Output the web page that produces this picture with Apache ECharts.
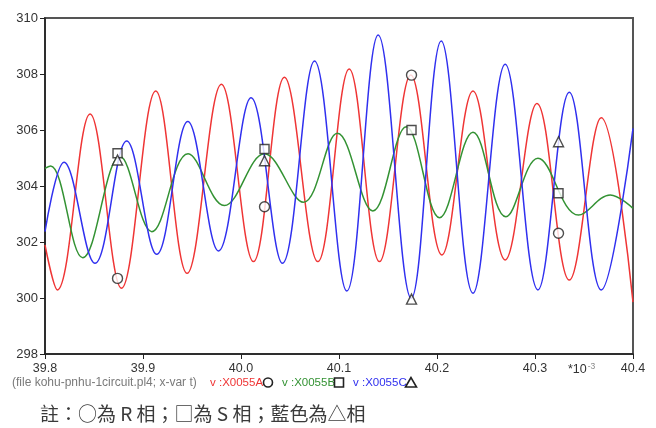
<!DOCTYPE html>
<html>
<head>
<meta charset="utf-8">
<script src="https://cdn.jsdelivr.net/npm/echarts@6/dist/echarts.min.js"></script>
<style>
html,body{margin:0;padding:0;background:#fff;}
#c{width:656px;height:428px;}
</style>
</head>
<body>
<div id="c"></div>
<script>
// x in units of 1e-3 s, y in volts
var redData = [
  [39.800, 301.90], [39.8126, 300.29], [39.846, 306.57], [39.878, 300.35],
  [39.913, 307.39], [39.945, 300.88], [39.980, 307.63], [40.0127, 301.30],
  [40.0443, 307.88], [40.0784, 301.30], [40.1104, 308.18], [40.1413, 301.30],
  [40.1733, 307.96], [40.205, 301.54], [40.2367, 307.39], [40.2696, 301.36],
  [40.302, 306.95], [40.335, 300.64], [40.3676, 306.44], [40.400, 299.85]
];
var greenData = [
  [39.800, 304.63], [39.8058, 304.71], [39.8385, 301.44], [39.8766, 305.05],
  [39.909, 302.37], [39.946, 305.15], [39.983, 303.30], [40.0239, 305.15],
  [40.0637, 303.42], [40.0984, 305.88], [40.1345, 303.11], [40.1686, 306.12],
  [40.2026, 302.87], [40.2367, 305.92], [40.2703, 302.90], [40.303, 304.99],
  [40.3445, 302.96], [40.3768, 303.68], [40.400, 303.20]
];
var blueData = [
  [39.800, 302.37], [39.8194, 304.85], [39.851, 301.24], [39.8834, 305.61],
  [39.914, 301.56], [39.9457, 306.30], [39.977, 301.68], [40.0103, 307.15],
  [40.0423, 301.24], [40.075, 308.46], [40.108, 300.25], [40.140, 309.39],
  [40.1737, 299.99], [40.2043, 309.18], [40.2367, 300.17], [40.2696, 308.35],
  [40.303, 300.29], [40.335, 307.35], [40.3676, 300.29], [40.400, 306.06]
];
var circleMarks = [[39.874, 300.70], [40.024, 303.26], [40.174, 307.96], [40.324, 302.31]];
var squareMarks = [[39.874, 305.17], [40.024, 305.32], [40.174, 306.00], [40.324, 303.74]];
var triangleMarks = [[39.874, 304.93], [40.024, 304.90], [40.174, 299.96], [40.324, 305.58]];

var seriesNames = ['v :X0055A', 'v :X0055B', 'v :X0055C'];
var fileLabel = '(file kohu-pnhu-1circuit.pl4; x-var t)';
var noteText = '註：○為 R 相；□為 S 相；藍色為△相';

var RED = '#ef3535', GREEN = '#339233', BLUE = '#3030ef';

var chart = echarts.init(document.getElementById('c'), null, {renderer: 'canvas'});

function lineSeries(name, data, color) {
  return {
    name: name, type: 'line', data: data, smooth: 0.38, showSymbol: false,
    lineStyle: {color: color, width: 1.5}, itemStyle: {color: color},
    animation: false, z: 2
  };
}
function markSeries(data, symbol, size) {
  return {
    type: 'scatter', data: data, symbol: symbol, symbolSize: size,
    itemStyle: {color: '#fff', borderColor: '#222', borderWidth: 1.4},
    animation: false, z: 5, silent: true
  };
}

var option = {
  backgroundColor: '#fff',
  animation: false,
  grid: {left: 45, right: 23, top: 18, bottom: 74, show: true,
         borderColor: '#555', borderWidth: 2, backgroundColor: 'transparent'},
  xAxis: {
    type: 'value', min: 39.8, max: 40.4, interval: 0.1,
    axisLine: {show: true, lineStyle: {color: '#222', width: 1.5}},
    axisTick: {show: true, length: 5, inside: false, lineStyle: {color: '#222'}},
    axisLabel: {color: '#333', fontSize: 12.5, fontFamily: 'Liberation Sans, Arial', margin: 8,
                formatter: function (v) { return v.toFixed(1); }},
    splitLine: {show: false}
  },
  yAxis: {
    type: 'value', min: 298, max: 310, interval: 2,
    axisLine: {show: true, lineStyle: {color: '#222', width: 1.5}},
    axisTick: {show: true, length: 5, inside: false, lineStyle: {color: '#222'}},
    axisLabel: {color: '#333', fontSize: 13, fontFamily: 'Liberation Sans, Arial', margin: 7},
    splitLine: {show: false}
  },
  series: [
    lineSeries(seriesNames[0], redData, RED),
    lineSeries(seriesNames[1], greenData, GREEN),
    lineSeries(seriesNames[2], blueData, BLUE),
    markSeries(circleMarks, 'circle', 10),
    markSeries(squareMarks, 'rect', 9),
    markSeries(triangleMarks, 'triangle', 10)
  ],
  graphic: [
    {type: 'text', left: 568, top: 362, style: {
      text: '{a|*10}{b|-3}', rich: {
        a: {fontSize: 12.5, fill: '#333', fontFamily: 'Liberation Sans, Arial'},
        b: {fontSize: 8.5, fill: '#888', fontFamily: 'Liberation Sans, Arial', verticalAlign: 'top', padding: [0, 0, 6, 1]}
      }}},
    {type: 'text', left: 12, top: 377, style: {text: fileLabel, fontSize: 12, fill: '#7a7a7a', fontFamily: 'Liberation Sans, Arial'}},
    {type: 'text', left: 210, top: 377, style: {text: seriesNames[0], fontSize: 11.5, fill: RED, fontFamily: 'Liberation Sans, Arial'}},
    {type: 'circle', shape: {cx: 268, cy: 382.5, r: 4.5}, style: {fill: 'none', stroke: '#222', lineWidth: 1.6}},
    {type: 'text', left: 282, top: 377, style: {text: seriesNames[1], fontSize: 11.5, fill: GREEN, fontFamily: 'Liberation Sans, Arial'}},
    {type: 'rect', shape: {x: 334.5, y: 378, width: 9, height: 9}, style: {fill: 'none', stroke: '#222', lineWidth: 1.6}},
    {type: 'text', left: 353, top: 377, style: {text: seriesNames[2], fontSize: 11.5, fill: BLUE, fontFamily: 'Liberation Sans, Arial'}},
    {type: 'polygon', shape: {points: [[411, 377.5], [405.5, 387], [416.5, 387]]}, style: {fill: 'none', stroke: '#222', lineWidth: 1.6}},
    {type: 'text', left: 40, top: 404, style: {text: noteText, fontSize: 19, fill: '#3a3a3a', fontFamily: 'Noto Sans CJK TC'}}
  ]
};
chart.setOption(option);
</script>
</body>
</html>
